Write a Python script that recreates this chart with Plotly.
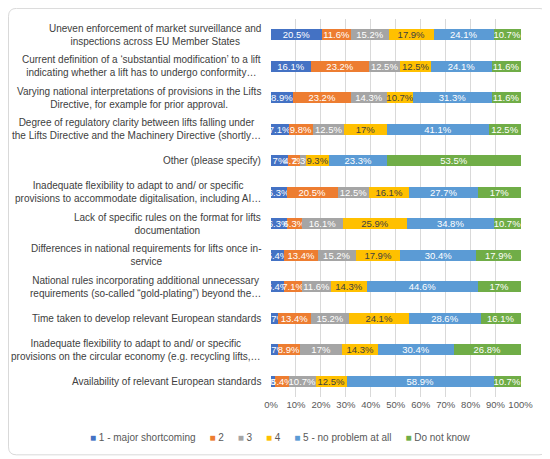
import plotly.graph_objects as go

# Survey items, top to bottom as in the chart
categories = [
    "Uneven enforcement of market surveillance and<br>inspections across EU Member States",
    "Current definition of a ‘substantial modification’ to a lift<br>indicating whether a lift has to undergo conformity…",
    "Varying national interpretations of provisions in the Lifts<br>Directive, for example for prior approval.",
    "Degree of regulatory clarity between lifts falling under<br>the Lifts Directive and the Machinery Directive (shortly…",
    "Other (please specify)",
    "Inadequate flexibility to adapt to and/ or specific<br>provisions to accommodate digitalisation, including AI…",
    "Lack of specific rules on the format for lifts<br>documentation",
    "Differences in national requirements for lifts once in-<br>service",
    "National rules incorporating additional unnecessary<br>requirements (so-called “gold-plating”) beyond the…",
    "Time taken to develop relevant European standards",
    "Inadequate flexibility to adapt to and/ or specific<br>provisions on the circular economy (e.g. recycling lifts,…",
    "Availability of relevant European standards",
]

# answer shares in percent, one list per answer
major_shortcoming = [20.5, 16.1, 8.9, 7.1, 7, 6.3, 6.3, 5.4, 5.4, 2.7, 2.7, 1.8]
score_2 = [11.6, 23.2, 23.2, 9.8, 4.7, 20.5, 6.3, 13.4, 7.1, 13.4, 8.9, 5.4]
score_3 = [15.2, 12.5, 14.3, 12.5, 2.3, 12.5, 16.1, 15.2, 11.6, 15.2, 17, 10.7]
score_4 = [17.9, 12.5, 10.7, 17, 9.3, 16.1, 25.9, 17.9, 14.3, 24.1, 14.3, 12.5]
no_problem = [24.1, 24.1, 31.3, 41.1, 23.3, 27.7, 34.8, 30.4, 44.6, 28.6, 30.4, 58.9]
do_not_know = [10.7, 11.6, 11.6, 12.5, 53.5, 17, 10.7, 17.9, 17, 16.1, 26.8, 10.7]

series_names = ["1 - major shortcoming", "2", "3", "4", "5 - no problem at all", "Do not know"]
series_values = [major_shortcoming, score_2, score_3, score_4, no_problem, do_not_know]
colors = ["#4472C4", "#ED7D31", "#A5A5A5", "#FFC000", "#5B9BD5", "#70AD47"]
label_colors = ["white", "white", "white", "#404040", "white", "white"]

tick_values = list(range(0, 101, 10))
tick_labels = [f"{t}%" for t in tick_values]

FONT = "Liberation Sans"

fig = go.Figure()
for name, vals, col, lcol in zip(series_names, series_values, colors, label_colors):
    fig.add_trace(
        go.Bar(
            y=categories,
            x=vals,
            name=name,
            orientation="h",
            marker=dict(color=col, line=dict(width=0)),
            text=[f"{v:g}%" for v in vals],
            textposition="inside",
            insidetextanchor="middle",
            textangle=0,
            textfont=dict(color=lcol, size=9.5, family=FONT),
            cliponaxis=False,
            showlegend=False,
        )
    )

# category labels, centred lines like the original
for cat in categories:
    fig.add_annotation(
        x=-0.032, xref="paper", y=cat, yref="y",
        text=cat, showarrow=False, xanchor="right", align="center",
        font=dict(size=10, color="#404040", family=FONT),
    )

# compact legend in one line, Excel style
gap = "\u00a0" * 5
legend_text = gap.join(
    f'<span style="color:{c}">■</span>\u00a0{n}' for c, n in zip(colors, series_names)
)
fig.add_annotation(
    x=0.036, xref="paper", y=-0.106, yref="paper",
    text=legend_text, showarrow=False, xanchor="center", yanchor="middle",
    font=dict(size=10, color="#595959", family=FONT),
)

# rounded chart border
fig.add_shape(
    type="path", xref="paper", yref="paper",
    path="M -1.018,1.028 L 1.072,1.028 Q 1.104,1.028 1.104,1.007 L 1.104,-0.132 "
         "Q 1.104,-0.153 1.072,-0.153 L -1.018,-0.153 Q -1.05,-0.153 -1.05,-0.132 "
         "L -1.05,1.007 Q -1.05,1.028 -1.018,1.028 Z",
    line=dict(color="#d9d9d9", width=1),
    layer="below",
)

# the page adds an 8px body margin, so the figure is 8px smaller
fig.update_layout(
    barmode="stack",
    bargap=0.64,
    width=542,
    height=451,
    margin=dict(l=263, r=29, t=11, b=62, autoexpand=False),
    paper_bgcolor="white",
    plot_bgcolor="white",
    font=dict(family=FONT, color="#595959", size=9.5),
    uniformtext=dict(mode="show", minsize=9.5),
    showlegend=False,
)
fig.update_xaxes(
    range=[0, 100.2], tickmode="array", tickvals=tick_values, ticktext=tick_labels,
    showgrid=True, gridcolor="#d9d9d9", gridwidth=1, zeroline=False,
    showline=False, tickfont=dict(size=9.5, color="#595959"),
)
fig.update_yaxes(
    autorange="reversed", showticklabels=False, showgrid=False,
    showline=False, zeroline=False,
)

fig.write_html("out.html")
